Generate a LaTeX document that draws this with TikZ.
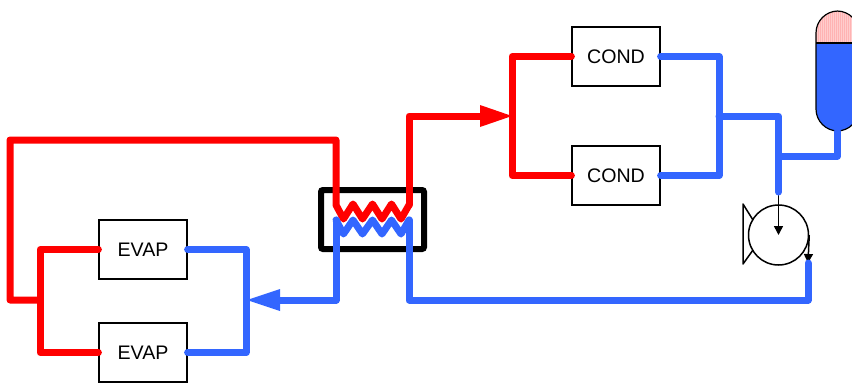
\documentclass[tikz,border=0pt]{standalone}
\usepackage{fontspec}
\setmainfont{Liberation Sans}
\usetikzlibrary{arrows.meta, positioning}
\definecolor{hotred}{HTML}{FF0000}
\definecolor{coldblue}{HTML}{3366FF}
\definecolor{gaspink}{HTML}{FFB3B3}
\tikzset{
  unit/.style={draw=black,line width=1.2pt,fill=white,minimum width=88pt,minimum height=59pt,inner sep=0pt,font=\fontsize{19.6}{24}\selectfont},
  hot/.style={draw=hotred,line width=7pt,line join=round,line cap=round},
  cold/.style={draw=coldblue,line width=7pt,line join=round,line cap=round},
  thin pipe/.style={draw=black,line width=1.5pt,-{Triangle[length=9pt,width=9pt]}}
}
\begin{document}
\begin{tikzpicture}[x=1pt,y=-1pt,node distance=104pt,on grid]
      \clip (0,0) rectangle (852,383);
      \node[unit] (evap_1) at (143,249.5) {EVAP};
      \node[unit] (evap_2) [below = 103pt of evap_1] {EVAP};
      \node[unit] (cond_1) at (616,56.5) {COND};
      \node[unit] (cond_2) [below = 119pt of cond_1] {COND};
      \node[draw=black,line width=6pt,rounded corners=2pt,minimum width=103pt,minimum height=59pt,inner sep=0pt] (hx) at (372.5,219.5) {};

      % receiver
      \begin{scope}
        \clip[rounded corners=22pt] (816,11) rectangle (859,131);
        \fill[coldblue] (816,43) rectangle (859,131);
        \fill[gaspink] (816,11) rectangle (859,43);
        \foreach \i in {817,819,...,859}
          \draw[white,opacity=.35,line width=.8pt] (\i,11) -- (\i,43);
      \end{scope}
      \draw[black,line width=1.2pt,rounded corners=22pt] (816,11) rectangle (859,131);
      \node[inner sep=0pt,minimum width=43pt,minimum height=120pt] (drum) at (837.5,71) {};
      \coordinate (drum_l) at (816,43);
      \coordinate (drum_r) at (859,43);
      \draw[black,line width=1.2pt] (drum_l) -- (drum_r);

      % pump
      \node[draw=black,line width=1.5pt,circle,fill=white,minimum size=60pt,inner sep=0pt] (pump) at (778.5,235) {};
      \coordinate (foot_a) at (743,204);
      \coordinate (foot_b) at (743,264);
      \coordinate (pump_in) at (778.5,192);
      \coordinate (pump_out) at (808,263);
      \draw[black,line width=1.5pt,line join=round] (753,220) -- (foot_a) -- (foot_b) -- (753,250);
      \draw[thin pipe] (pump_in) -- (pump.center);
      \draw[thin pipe] (pump.east) -- (pump_out);

      % coordinates of the pipe runs
      \coordinate (hot_in) at (336,205);
      \coordinate (hot_out) at (409,205);
      \coordinate (cold_in) at (336,220);
      \coordinate (cold_out) at (409,220);
      \coordinate (hot_join) at (512,116);
      \coordinate (cold_join) at (247,300);
      \coordinate (evap_join) at (40,300);
      \coordinate (cond_join) at (719,116);
      \coordinate (drum_join) at (778.5,156);

      % hot side
      \draw[hot] (evap_1.west) -| (evap_join) |- (evap_2.west);
      \draw[hot] (evap_join) -- (10,300) -- (10,140) -- (336,140) -- (hot_in)
        -- (343.5,219) -- (353,204) -- (362.5,219) -- (372.5,204) -- (382,219) -- (391.5,204) -- (401,219) -- (hot_out);
      \draw[hot] (hot_out) -- (409,116) -- (480,116);
      \fill[hotred] (hot_join) -- (480,105) -- (480,127) -- cycle;
      \draw[hot] (cond_1.west) -| (hot_join) |- (cond_2.west);

      % cold side
      \draw[cold] (cold_in)
        -- (343.5,234) -- (353,220) -- (362.5,234) -- (372.5,220) -- (382,234) -- (391.5,220) -- (401,234) -- (cold_out);
      \draw[cold] (cold_in) -- (336,300) -- (280,300);
      \fill[coldblue] (cold_join) -- (280,289) -- (280,311) -- cycle;
      \draw[cold] (evap_1.east) -| (246,300) |- (evap_2.east);
      \draw[cold] (cold_out) -- (409,300) -- (808,300) -- (pump_out);
      \draw[cold] (cond_1.east) -| (cond_join) |- (cond_2.east);
      \draw[cold] (cond_join) -- (778.5,116) -- (pump_in);
      \draw[cold] (drum.south) -- (837.5,156) -- (drum_join);
\end{tikzpicture}
\end{document}
